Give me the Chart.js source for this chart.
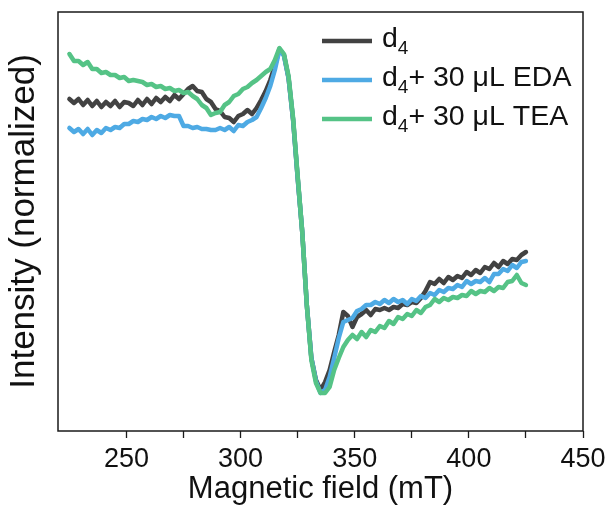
<!DOCTYPE html>
<html>
<head>
<meta charset="utf-8">
<script src="https://cdn.jsdelivr.net/npm/chart.js@4.4.1/dist/chart.umd.min.js"></script>
<style>
  body { margin: 0; background: #fff; }
  #wrap { width: 611px; height: 508px; }
</style>
</head>
<body>
<div id="wrap"><canvas id="chartEpr" width="611" height="508"></canvas></div>
<script>
// magnetic field (mT)
const field = [225,227,229,231,233,235,237,239,241,243,245,247,249,251,253,255,257,259,261,263,
  265,267,269,271,273,275,277,279,281,283,285,287,289,291,293,295,297,299,301,303,
  305,307,309,311,313,315,317,319,321,323,325,327,329,331,333,335,337,339,341,343,
  345,347,349,351,353,355,357,359,361,363,365,367,369,371,373,375,377,379,381,383,
  385,387,389,391,393,395,397,399,401,403,405,407,409,411,413,415,417,419,421,423,425];

// intensity (a.u.)
const d4 = [121,117,121,115,120,114,119,113,118,114,119,113,118,117,114,120,115,121,116,122,
  118,123,119,125,121,126,131,134,129,128,121,118,111,109,103,102,98,104,106,110,
  106,112,120,129,140,154,171,165,142,100,42,-12,-85,-138,-160,-170,-162,-150,-132,-115,
  -92,-96,-107,-97,-94,-90,-95,-89,-90,-88,-90,-87,-88,-84,-85,-82,-83,-78,-71,-62,
  -64,-59,-63,-57,-60,-56,-58,-52,-55,-50,-53,-47,-49,-43,-47,-41,-44,-39,-40,-35,-32];

const d4Eda = [92,88,91,86,91,85,90,87,92,90,93,92,96,96,99,98,101,100,103,101,
  104,102,105,104,104,94,94,92,93,91,91,90,90,92,90,93,89,95,94,98,
  100,103,112,122,134,150,170,164,142,100,42,-12,-85,-138,-161,-173,-170,-157,-138,-118,
  -102,-100,-98,-91,-89,-85,-85,-82,-84,-80,-83,-79,-82,-80,-84,-79,-81,-76,-78,-73,
  -75,-70,-72,-68,-69,-65,-67,-61,-64,-61,-62,-58,-62,-54,-54,-49,-51,-45,-48,-42,-41];

const d4Tea = [166,159,159,155,158,151,151,147,148,145,145,142,143,139,140,139,138,135,136,133,
  134,131,132,129,130,127,128,124,121,115,112,105,107,108,115,118,124,126,131,133,
  137,140,144,148,151,160,172,166,144,102,44,-12,-85,-140,-163,-173,-173,-167,-150,-138,
  -127,-120,-115,-119,-112,-117,-110,-112,-106,-108,-101,-104,-97,-99,-94,-96,-90,-93,-87,-85,
  -79,-82,-78,-80,-77,-78,-75,-76,-71,-74,-71,-72,-68,-71,-67,-68,-62,-61,-55,-63,-65];

const seriesNames = ['d4', 'd4+ 30 \u03bcL EDA', 'd4+ 30 \u03bcL TEA'];
const seriesColors = ['#424242', '#4eaae4', '#55c386'];

const fontFam = '"Liberation Sans", Arial, Helvetica, sans-serif';

function toPoints(ys) {
  return ys.map((y, i) => ({ x: field[i], y: y }));
}

// frame round the plot area + legend with subscripts
const framePlugin = {
  id: 'frame',
  afterDatasetsDraw(chart) {
    const a = chart.chartArea;
    const ctx = chart.ctx;
    ctx.save();
    ctx.strokeStyle = '#1a1a1a';
    ctx.lineWidth = 1.5;
    ctx.strokeRect(a.left, a.top, a.right - a.left, a.bottom - a.top);

    const rows = [41, 80, 119];
    for (let i = 0; i < seriesNames.length; i++) {
      const y = rows[i];
      ctx.strokeStyle = seriesColors[i];
      ctx.lineWidth = 4.5;
      ctx.beginPath();
      ctx.moveTo(322, y);
      ctx.lineTo(372, y);
      ctx.stroke();

      ctx.fillStyle = '#111';
      ctx.textBaseline = 'alphabetic';
      ctx.textAlign = 'left';
      let x = 382;
      ctx.font = '28.5px ' + fontFam;
      ctx.fillText('d', x, y + 6);
      x += ctx.measureText('d').width;
      ctx.font = '19px ' + fontFam;
      ctx.fillText('4', x, y + 13);
      x += ctx.measureText('4').width;
      const rest = seriesNames[i].slice(2);
      if (rest) {
        ctx.font = '28.5px ' + fontFam;
        ctx.fillText(rest, x, y + 6);
      }
    }
    ctx.restore();
  }
};

const ctx = document.getElementById('chartEpr').getContext('2d');

const myChart = new Chart(ctx, {
  type: 'line',
  data: {
    datasets: [
      { label: seriesNames[0], data: toPoints(d4), borderColor: seriesColors[0], order: 2 },
      { label: seriesNames[1], data: toPoints(d4Eda), borderColor: seriesColors[1], order: 1 },
      { label: seriesNames[2], data: toPoints(d4Tea), borderColor: seriesColors[2], order: 0 }
    ]
  },
  options: {
    responsive: false,
    animation: false,
    parsing: false,
    layout: { padding: { left: 0, right: 28, top: 12, bottom: 0 } },
    elements: {
      point: { radius: 0 },
      line: { borderWidth: 4.5, tension: 0, borderJoinStyle: 'round', borderCapStyle: 'round', fill: false }
    },
    plugins: {
      legend: { display: false },
      tooltip: { enabled: false }
    },
    scales: {
      x: {
        type: 'linear',
        min: 220,
        max: 450,
        afterBuildTicks: (s) => { s.ticks = s.ticks.filter(t => t.value % 25 === 0); },
        afterFit: (s) => { s.height = 77; },
        ticks: {
          stepSize: 25,
          autoSkip: false,
          maxRotation: 0,
          padding: 5,
          color: '#111',
          font: { family: fontFam, size: 27 },
          callback: (v) => (v % 50 === 0 ? String(v) : '')
        },
        grid: {
          display: true,
          drawOnChartArea: false,
          drawTicks: true,
          tickLength: 7,
          tickWidth: 1.3,
          tickColor: '#1a1a1a'
        },
        border: { display: false },
        title: {
          display: true,
          text: 'Magnetic field (mT)',
          color: '#111',
          font: { family: fontFam, size: 31 },
          padding: { top: 0, bottom: 0 }
        }
      },
      y: {
        min: -211,
        max: 208,
        afterFit: (s) => { s.width = 58; },
        ticks: { display: false },
        grid: { display: false },
        border: { display: false },
        title: {
          display: true,
          text: 'Intensity (normalized)',
          color: '#111',
          font: { family: fontFam, size: 35 },
          padding: { top: 3, bottom: 0 }
        }
      }
    }
  },
  plugins: [framePlugin]
});
</script>
</body>
</html>
